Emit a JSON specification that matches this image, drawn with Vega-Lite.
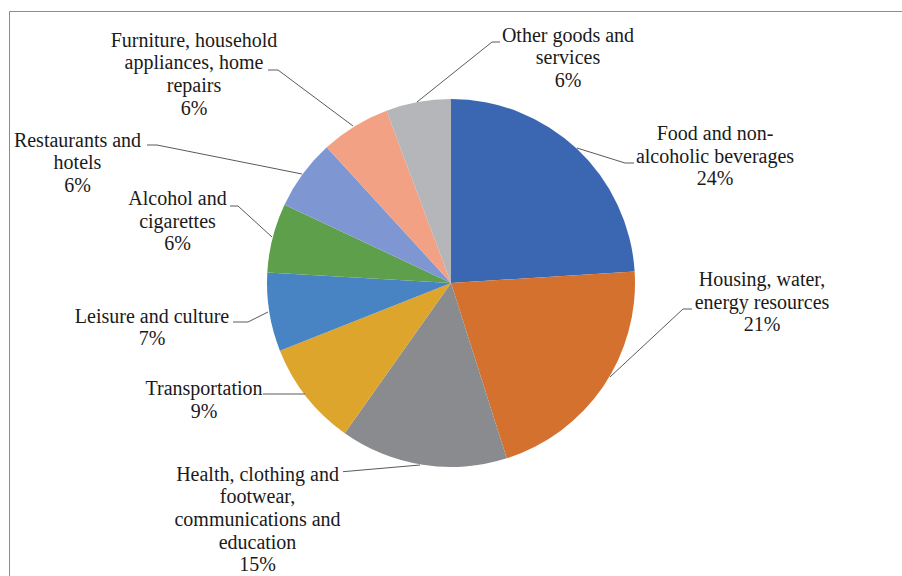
{
  "$schema": "https://vega.github.io/schema/vega-lite/v6.json",
  "width": 903,
  "height": 575,
  "autosize": {"type": "none"},
  "padding": {"left": 9, "top": 11, "right": -10, "bottom": -10},
  "background": "#ffffff",
  "config": {"view": {"stroke": "#8c8c8c", "strokeWidth": 1}, "font": "'Liberation Serif', 'Times New Roman', 'DejaVu Serif', serif"},
  "datasets": {
    "slices": [
      {"name": "Food and non-alcoholic beverages", "value": 24.0, "o": 1},
      {"name": "Housing, water, energy resources", "value": 21.1, "o": 2},
      {"name": "Health, clothing and footwear, communications and education", "value": 14.7, "o": 3},
      {"name": "Transportation", "value": 9.2, "o": 4},
      {"name": "Leisure and culture", "value": 6.9, "o": 5},
      {"name": "Alcohol and cigarettes", "value": 6.1, "o": 6},
      {"name": "Restaurants and hotels", "value": 6.2, "o": 7},
      {"name": "Furniture, household appliances, home repairs", "value": 6.1, "o": 8},
      {"name": "Other goods and services", "value": 5.7, "o": 9}
    ],
    "labels": [
      {"label": "Food and non-\nalcoholic beverages\n24%", "ox": 264, "oy": 143},
      {"label": "Housing, water,\nenergy resources\n21%", "ox": 311, "oy": -3},
      {"label": "Health, clothing and\nfootwear,\ncommunications and\neducation\n15%", "ox": -193.5, "oy": -197.7},
      {"label": "Transportation\n9%", "ox": -247, "oy": -112},
      {"label": "Leisure and culture\n7%", "ox": -299, "oy": -39.7},
      {"label": "Alcohol and\ncigarettes\n6%", "ox": -273.5, "oy": 78},
      {"label": "Restaurants and\nhotels\n6%", "ox": -373.5, "oy": 136.3},
      {"label": "Furniture, household\nappliances, home\nrepairs\n6%", "ox": -257, "oy": 236.3},
      {"label": "Other goods and\nservices\n6%", "ox": 117, "oy": 241.3}
    ],
    "leaders": [
      {"name": "Food", "i": 1, "ox": 126, "oy": 135},
      {"name": "Food", "i": 2, "ox": 174, "oy": 120},
      {"name": "Food", "i": 3, "ox": 183, "oy": 120},
      {"name": "Housing", "i": 1, "ox": 159, "oy": -94},
      {"name": "Housing", "i": 2, "ox": 232, "oy": -26},
      {"name": "Housing", "i": 3, "ox": 241, "oy": -26},
      {"name": "Health", "i": 1, "ox": -108, "oy": -188.7},
      {"name": "Health", "i": 2, "ox": -31, "oy": -182},
      {"name": "Transportation", "i": 1, "ox": -188, "oy": -111},
      {"name": "Transportation", "i": 2, "ox": -146, "oy": -111},
      {"name": "Leisure", "i": 1, "ox": -218, "oy": -39},
      {"name": "Leisure", "i": 2, "ox": -203, "oy": -39},
      {"name": "Leisure", "i": 3, "ox": -183, "oy": -29},
      {"name": "Alcohol", "i": 1, "ox": -221, "oy": 77},
      {"name": "Alcohol", "i": 2, "ox": -213, "oy": 77},
      {"name": "Alcohol", "i": 3, "ox": -179, "oy": 46},
      {"name": "Restaurants", "i": 1, "ox": -304, "oy": 138},
      {"name": "Restaurants", "i": 2, "ox": -294, "oy": 138},
      {"name": "Restaurants", "i": 3, "ox": -149, "oy": 109},
      {"name": "Furniture", "i": 1, "ox": -183, "oy": 213},
      {"name": "Furniture", "i": 2, "ox": -173, "oy": 213},
      {"name": "Furniture", "i": 3, "ox": -98, "oy": 157},
      {"name": "Other", "i": 1, "ox": -34, "oy": 181},
      {"name": "Other", "i": 2, "ox": 41, "oy": 241},
      {"name": "Other", "i": 3, "ox": 49, "oy": 241}
    ]
  },
  "layer": [
    {
      "data": {"name": "slices"},
      "mark": {"type": "arc", "outerRadius": 184},
      "encoding": {
        "x": {"datum": 0, "type": "quantitative", "scale": {"domain": [-442, 461], "nice": false, "zero": false}, "axis": null},
        "y": {"datum": 0, "type": "quantitative", "scale": {"domain": [-303, 272], "nice": false, "zero": false}, "axis": null},
        "theta": {"field": "value", "type": "quantitative", "stack": true},
        "order": {"field": "o", "type": "quantitative"},
        "color": {
          "field": "name",
          "type": "nominal",
          "legend": null,
          "scale": {
            "domain": [
              "Food and non-alcoholic beverages",
              "Housing, water, energy resources",
              "Health, clothing and footwear, communications and education",
              "Transportation",
              "Leisure and culture",
              "Alcohol and cigarettes",
              "Restaurants and hotels",
              "Furniture, household appliances, home repairs",
              "Other goods and services"
            ],
            "range": ["#3B67B2", "#D4712F", "#8A8B8F", "#DDA52B", "#4884C4", "#5E9F4C", "#7E97D3", "#F2A184", "#B4B6B9"]
          }
        }
      }
    },
    {
      "data": {"name": "leaders"},
      "mark": {"type": "line", "color": "#5a5a5a", "strokeWidth": 1},
      "encoding": {
        "x": {"field": "ox", "type": "quantitative", "scale": {"domain": [-442, 461], "nice": false, "zero": false}, "axis": null},
        "y": {"field": "oy", "type": "quantitative", "scale": {"domain": [-303, 272], "nice": false, "zero": false}, "axis": null},
        "detail": {"field": "name", "type": "nominal"},
        "order": {"field": "i", "type": "quantitative"}
      }
    },
    {
      "data": {"name": "labels"},
      "mark": {"type": "text", "lineBreak": "\n", "align": "center", "baseline": "alphabetic", "font": "'Liberation Serif', 'Times New Roman', 'DejaVu Serif', serif", "fontSize": 20, "lineHeight": 22.7, "color": "#1a1a1a"},
      "encoding": {
        "x": {"field": "ox", "type": "quantitative", "scale": {"domain": [-442, 461], "nice": false, "zero": false}, "axis": null},
        "y": {"field": "oy", "type": "quantitative", "scale": {"domain": [-303, 272], "nice": false, "zero": false}, "axis": null},
        "text": {"field": "label", "type": "nominal"}
      }
    }
  ]
}
